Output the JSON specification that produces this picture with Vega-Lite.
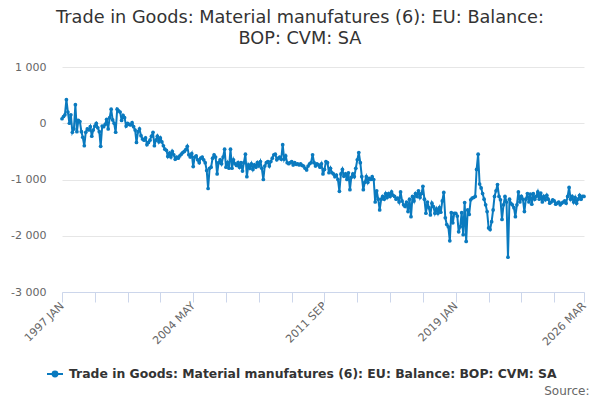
{
"$schema": "https://vega.github.io/schema/vega-lite/v6.json",
"autosize": "none",
"width": 522,
"height": 225,
"padding": {"left": 62, "top": 67, "right": 16, "bottom": 108},
"background": "white",
"config": {"view": {"stroke": null}, "font": "DejaVu Sans"},
"title": {"text": ["Trade in Goods: Material manufatures (6): EU: Balance:", "BOP: CVM: SA"], "font": "DejaVu Sans", "fontSize": 17.7, "fontWeight": "normal", "color": "#333333", "anchor": "middle", "dx": -23, "lineHeight": 21, "offset": 13},
"data": {"values": [
{"date":"1997-01","value":80},{"date":"1997-02","value":120},{"date":"1997-03","value":150},{"date":"1997-04","value":420},{"date":"1997-05","value":200},{"date":"1997-06","value":0},{"date":"1997-07","value":150},{"date":"1997-08","value":-160},{"date":"1997-09","value":-100},{"date":"1997-10","value":330},{"date":"1997-11","value":-150},{"date":"1997-12","value":50},
{"date":"1998-01","value":30},{"date":"1998-02","value":-150},{"date":"1998-03","value":-250},{"date":"1998-04","value":-400},{"date":"1998-05","value":-160},{"date":"1998-06","value":-100},{"date":"1998-07","value":-120},{"date":"1998-08","value":-60},{"date":"1998-09","value":-230},{"date":"1998-10","value":-120},{"date":"1998-11","value":-50},{"date":"1998-12","value":0},
{"date":"1999-01","value":-80},{"date":"1999-02","value":-150},{"date":"1999-03","value":-410},{"date":"1999-04","value":-50},{"date":"1999-05","value":-60},{"date":"1999-06","value":-20},{"date":"1999-07","value":70},{"date":"1999-08","value":-100},{"date":"1999-09","value":100},{"date":"1999-10","value":250},{"date":"1999-11","value":60},{"date":"1999-12","value":0},
{"date":"2000-01","value":-160},{"date":"2000-02","value":250},{"date":"2000-03","value":220},{"date":"2000-04","value":200},{"date":"2000-05","value":50},{"date":"2000-06","value":140},{"date":"2000-07","value":100},{"date":"2000-08","value":-50},{"date":"2000-09","value":0},{"date":"2000-10","value":-20},{"date":"2000-11","value":-30},{"date":"2000-12","value":10},
{"date":"2001-01","value":-60},{"date":"2001-02","value":-120},{"date":"2001-03","value":-340},{"date":"2001-04","value":-150},{"date":"2001-05","value":-100},{"date":"2001-06","value":-220},{"date":"2001-07","value":-280},{"date":"2001-08","value":-300},{"date":"2001-09","value":-260},{"date":"2001-10","value":-380},{"date":"2001-11","value":-340},{"date":"2001-12","value":-300},
{"date":"2002-01","value":-230},{"date":"2002-02","value":-160},{"date":"2002-03","value":-400},{"date":"2002-04","value":-300},{"date":"2002-05","value":-230},{"date":"2002-06","value":-330},{"date":"2002-07","value":-260},{"date":"2002-08","value":-330},{"date":"2002-09","value":-400},{"date":"2002-10","value":-460},{"date":"2002-11","value":-480},{"date":"2002-12","value":-590},
{"date":"2003-01","value":-530},{"date":"2003-02","value":-600},{"date":"2003-03","value":-500},{"date":"2003-04","value":-560},{"date":"2003-05","value":-640},{"date":"2003-06","value":-600},{"date":"2003-07","value":-620},{"date":"2003-08","value":-580},{"date":"2003-09","value":-550},{"date":"2003-10","value":-520},{"date":"2003-11","value":-500},{"date":"2003-12","value":-470},
{"date":"2004-01","value":-410},{"date":"2004-02","value":-560},{"date":"2004-03","value":-600},{"date":"2004-04","value":-540},{"date":"2004-05","value":-770},{"date":"2004-06","value":-600},{"date":"2004-07","value":-580},{"date":"2004-08","value":-650},{"date":"2004-09","value":-700},{"date":"2004-10","value":-620},{"date":"2004-11","value":-600},{"date":"2004-12","value":-650},
{"date":"2005-01","value":-700},{"date":"2005-02","value":-840},{"date":"2005-03","value":-1160},{"date":"2005-04","value":-800},{"date":"2005-05","value":-780},{"date":"2005-06","value":-620},{"date":"2005-07","value":-560},{"date":"2005-08","value":-600},{"date":"2005-09","value":-900},{"date":"2005-10","value":-700},{"date":"2005-11","value":-650},{"date":"2005-12","value":-720},
{"date":"2006-01","value":-600},{"date":"2006-02","value":-460},{"date":"2006-03","value":-780},{"date":"2006-04","value":-700},{"date":"2006-05","value":-800},{"date":"2006-06","value":-460},{"date":"2006-07","value":-800},{"date":"2006-08","value":-650},{"date":"2006-09","value":-720},{"date":"2006-10","value":-750},{"date":"2006-11","value":-700},{"date":"2006-12","value":-780},
{"date":"2007-01","value":-700},{"date":"2007-02","value":-850},{"date":"2007-03","value":-700},{"date":"2007-04","value":-550},{"date":"2007-05","value":-950},{"date":"2007-06","value":-740},{"date":"2007-07","value":-800},{"date":"2007-08","value":-720},{"date":"2007-09","value":-820},{"date":"2007-10","value":-740},{"date":"2007-11","value":-780},{"date":"2007-12","value":-700},
{"date":"2008-01","value":-760},{"date":"2008-02","value":-680},{"date":"2008-03","value":-800},{"date":"2008-04","value":-1000},{"date":"2008-05","value":-760},{"date":"2008-06","value":-700},{"date":"2008-07","value":-680},{"date":"2008-08","value":-760},{"date":"2008-09","value":-680},{"date":"2008-10","value":-620},{"date":"2008-11","value":-560},{"date":"2008-12","value":-550},
{"date":"2009-01","value":-650},{"date":"2009-02","value":-620},{"date":"2009-03","value":-600},{"date":"2009-04","value":-640},{"date":"2009-05","value":-380},{"date":"2009-06","value":-640},{"date":"2009-07","value":-580},{"date":"2009-08","value":-700},{"date":"2009-09","value":-720},{"date":"2009-10","value":-700},{"date":"2009-11","value":-680},{"date":"2009-12","value":-740},
{"date":"2010-01","value":-700},{"date":"2010-02","value":-730},{"date":"2010-03","value":-720},{"date":"2010-04","value":-740},{"date":"2010-05","value":-720},{"date":"2010-06","value":-750},{"date":"2010-07","value":-760},{"date":"2010-08","value":-800},{"date":"2010-09","value":-830},{"date":"2010-10","value":-760},{"date":"2010-11","value":-720},{"date":"2010-12","value":-700},
{"date":"2011-01","value":-560},{"date":"2011-02","value":-700},{"date":"2011-03","value":-760},{"date":"2011-04","value":-720},{"date":"2011-05","value":-740},{"date":"2011-06","value":-780},{"date":"2011-07","value":-720},{"date":"2011-08","value":-900},{"date":"2011-09","value":-820},{"date":"2011-10","value":-680},{"date":"2011-11","value":-700},{"date":"2011-12","value":-880},
{"date":"2012-01","value":-800},{"date":"2012-02","value":-880},{"date":"2012-03","value":-900},{"date":"2012-04","value":-950},{"date":"2012-05","value":-920},{"date":"2012-06","value":-1000},{"date":"2012-07","value":-1210},{"date":"2012-08","value":-900},{"date":"2012-09","value":-820},{"date":"2012-10","value":-940},{"date":"2012-11","value":-900},{"date":"2012-12","value":-1000},
{"date":"2013-01","value":-880},{"date":"2013-02","value":-1180},{"date":"2013-03","value":-960},{"date":"2013-04","value":-900},{"date":"2013-05","value":-950},{"date":"2013-06","value":-800},{"date":"2013-07","value":-650},{"date":"2013-08","value":-520},{"date":"2013-09","value":-700},{"date":"2013-10","value":-950},{"date":"2013-11","value":-1180},{"date":"2013-12","value":-1050},
{"date":"2014-01","value":-950},{"date":"2014-02","value":-1050},{"date":"2014-03","value":-980},{"date":"2014-04","value":-1000},{"date":"2014-05","value":-950},{"date":"2014-06","value":-1000},{"date":"2014-07","value":-1400},{"date":"2014-08","value":-1200},{"date":"2014-09","value":-1350},{"date":"2014-10","value":-1540},{"date":"2014-11","value":-1350},{"date":"2014-12","value":-1300},
{"date":"2015-01","value":-1350},{"date":"2015-02","value":-1250},{"date":"2015-03","value":-1320},{"date":"2015-04","value":-1250},{"date":"2015-05","value":-1300},{"date":"2015-06","value":-1220},{"date":"2015-07","value":-1280},{"date":"2015-08","value":-1300},{"date":"2015-09","value":-1350},{"date":"2015-10","value":-1330},{"date":"2015-11","value":-1400},{"date":"2015-12","value":-1220},
{"date":"2016-01","value":-1380},{"date":"2016-02","value":-1450},{"date":"2016-03","value":-1480},{"date":"2016-04","value":-1400},{"date":"2016-05","value":-1570},{"date":"2016-06","value":-1350},{"date":"2016-07","value":-1660},{"date":"2016-08","value":-1300},{"date":"2016-09","value":-1380},{"date":"2016-10","value":-1250},{"date":"2016-11","value":-1300},{"date":"2016-12","value":-1200},
{"date":"2017-01","value":-1320},{"date":"2017-02","value":-1250},{"date":"2017-03","value":-1120},{"date":"2017-04","value":-1350},{"date":"2017-05","value":-1600},{"date":"2017-06","value":-1400},{"date":"2017-07","value":-1500},{"date":"2017-08","value":-1630},{"date":"2017-09","value":-1420},{"date":"2017-10","value":-1480},{"date":"2017-11","value":-1600},{"date":"2017-12","value":-1520},
{"date":"2018-01","value":-1600},{"date":"2018-02","value":-1500},{"date":"2018-03","value":-1580},{"date":"2018-04","value":-1380},{"date":"2018-05","value":-1230},{"date":"2018-06","value":-1680},{"date":"2018-07","value":-1800},{"date":"2018-08","value":-1840},{"date":"2018-09","value":-2090},{"date":"2018-10","value":-1590},{"date":"2018-11","value":-1770},{"date":"2018-12","value":-1600},
{"date":"2019-01","value":-1600},{"date":"2019-02","value":-1650},{"date":"2019-03","value":-1930},{"date":"2019-04","value":-1840},{"date":"2019-05","value":-1590},{"date":"2019-06","value":-1980},{"date":"2019-07","value":-1410},{"date":"2019-08","value":-2100},{"date":"2019-09","value":-1540},{"date":"2019-10","value":-1620},{"date":"2019-11","value":-1360},{"date":"2019-12","value":-1330},
{"date":"2020-01","value":-1320},{"date":"2020-02","value":-1300},{"date":"2020-03","value":-820},{"date":"2020-04","value":-550},{"date":"2020-05","value":-1080},{"date":"2020-06","value":-1150},{"date":"2020-07","value":-1250},{"date":"2020-08","value":-1350},{"date":"2020-09","value":-1450},{"date":"2020-10","value":-1570},{"date":"2020-11","value":-1860},{"date":"2020-12","value":-1890},
{"date":"2021-01","value":-1750},{"date":"2021-02","value":-1540},{"date":"2021-03","value":-1300},{"date":"2021-04","value":-1200},{"date":"2021-05","value":-1090},{"date":"2021-06","value":-1300},{"date":"2021-07","value":-1360},{"date":"2021-08","value":-1710},{"date":"2021-09","value":-1450},{"date":"2021-10","value":-1300},{"date":"2021-11","value":-1400},{"date":"2021-12","value":-2380},
{"date":"2022-01","value":-1350},{"date":"2022-02","value":-1430},{"date":"2022-03","value":-1450},{"date":"2022-04","value":-1500},{"date":"2022-05","value":-1660},{"date":"2022-06","value":-1450},{"date":"2022-07","value":-1220},{"date":"2022-08","value":-1400},{"date":"2022-09","value":-1300},{"date":"2022-10","value":-1350},{"date":"2022-11","value":-1570},{"date":"2022-12","value":-1350},
{"date":"2023-01","value":-1250},{"date":"2023-02","value":-1400},{"date":"2023-03","value":-1260},{"date":"2023-04","value":-1440},{"date":"2023-05","value":-1250},{"date":"2023-06","value":-1350},{"date":"2023-07","value":-1300},{"date":"2023-08","value":-1220},{"date":"2023-09","value":-1350},{"date":"2023-10","value":-1240},{"date":"2023-11","value":-1400},{"date":"2023-12","value":-1300},
{"date":"2024-01","value":-1360},{"date":"2024-02","value":-1280},{"date":"2024-03","value":-1350},{"date":"2024-04","value":-1420},{"date":"2024-05","value":-1400},{"date":"2024-06","value":-1360},{"date":"2024-07","value":-1380},{"date":"2024-08","value":-1440},{"date":"2024-09","value":-1420},{"date":"2024-10","value":-1400},{"date":"2024-11","value":-1450},{"date":"2024-12","value":-1420},
{"date":"2025-01","value":-1400},{"date":"2025-02","value":-1380},{"date":"2025-03","value":-1420},{"date":"2025-04","value":-1300},{"date":"2025-05","value":-1140},{"date":"2025-06","value":-1350},{"date":"2025-07","value":-1300},{"date":"2025-08","value":-1400},{"date":"2025-09","value":-1320},{"date":"2025-10","value":-1420},{"date":"2025-11","value":-1350},{"date":"2025-12","value":-1280},
{"date":"2026-01","value":-1350},{"date":"2026-02","value":-1300},{"date":"2026-03","value":-1300}
]},
"mark": {"type": "line", "strokeWidth": 2, "point": {"filled": true, "size": 14}},
"encoding": {
"x": {"field": "date", "type": "temporal",
 "scale": {"type": "utc", "domain": [{"year": 1997, "month": 1, "date": 1, "utc": true}, {"year": 2026, "month": 3, "date": 1, "utc": true}]},
 "axis": {"title": "Source:", "titleFont": "DejaVu Sans", "titleFontSize": 12, "titleFontWeight": "normal", "titleColor": "#666666", "titleAnchor": "end", "titleAlign": "right", "titleBaseline": "middle", "titleX": 527, "titleY": 98,
  "values": [{"year":1997,"month":1,"utc":true},{"year":1998,"month":11,"utc":true},{"year":2000,"month":9,"utc":true},{"year":2002,"month":7,"utc":true},{"year":2004,"month":5,"utc":true},{"year":2006,"month":3,"utc":true},{"year":2008,"month":1,"utc":true},{"year":2009,"month":11,"utc":true},{"year":2011,"month":9,"utc":true},{"year":2013,"month":7,"utc":true},{"year":2015,"month":5,"utc":true},{"year":2017,"month":3,"utc":true},{"year":2019,"month":1,"utc":true},{"year":2020,"month":11,"utc":true},{"year":2022,"month":9,"utc":true},{"year":2024,"month":7,"utc":true},{"year":2026,"month":3,"utc":true}],
  "labelExpr": "indexof(['1997-01','2004-05','2011-09','2019-01','2026-03'], utcFormat(datum.value, '%Y-%m')) >= 0 ? upper(utcFormat(datum.value, '%Y %b')) : ''",
  "labelAngle": -45, "labelAlign": "right", "labelBaseline": "middle", "labelFont": "DejaVu Sans", "labelFontSize": 11, "labelColor": "#666666", "labelPadding": 2, "labelOverlap": false, "labelBound": false, "labelFlush": false,
  "grid": false, "domainColor": "#ccd6eb", "tickColor": "#ccd6eb", "tickSize": 10}},
"y": {"field": "value", "type": "quantitative",
 "scale": {"domain": [-3000, 1000], "nice": false, "zero": false},
 "axis": {"title": null, "values": [-3000, -2000, -1000, 0, 1000], "labelExpr": "(datum.value < 0 ? '-' : '') + replace(format(abs(datum.value), ','), ',', ' ')", "labelFont": "DejaVu Sans", "labelFontSize": 11, "labelColor": "#666666", "labelPadding": 16, "domain": false, "ticks": false, "grid": true, "gridColor": "#e6e6e6"}},
"color": {"datum": "Trade in Goods: Material manufatures (6): EU: Balance: BOP: CVM: SA", "type": "nominal", "scale": {"range": ["#0a7abf"]},
 "legend": {"title": null, "orient": "none", "legendX": -16, "legendY": 298, "symbolType": "M-1,0L1,0M-0.3,0A0.3,0.3,0,1,0,0.3,0A0.3,0.3,0,1,0,-0.3,0Z", "symbolSize": 256, "symbolStrokeWidth": 2, "symbolStrokeColor": "#0a7abf", "symbolFillColor": "#0a7abf", "labelFont": "DejaVu Sans", "labelFontSize": 12.4, "labelFontWeight": "bold", "labelColor": "#333333", "labelOffset": 5, "labelLimit": 0}}
}
}
